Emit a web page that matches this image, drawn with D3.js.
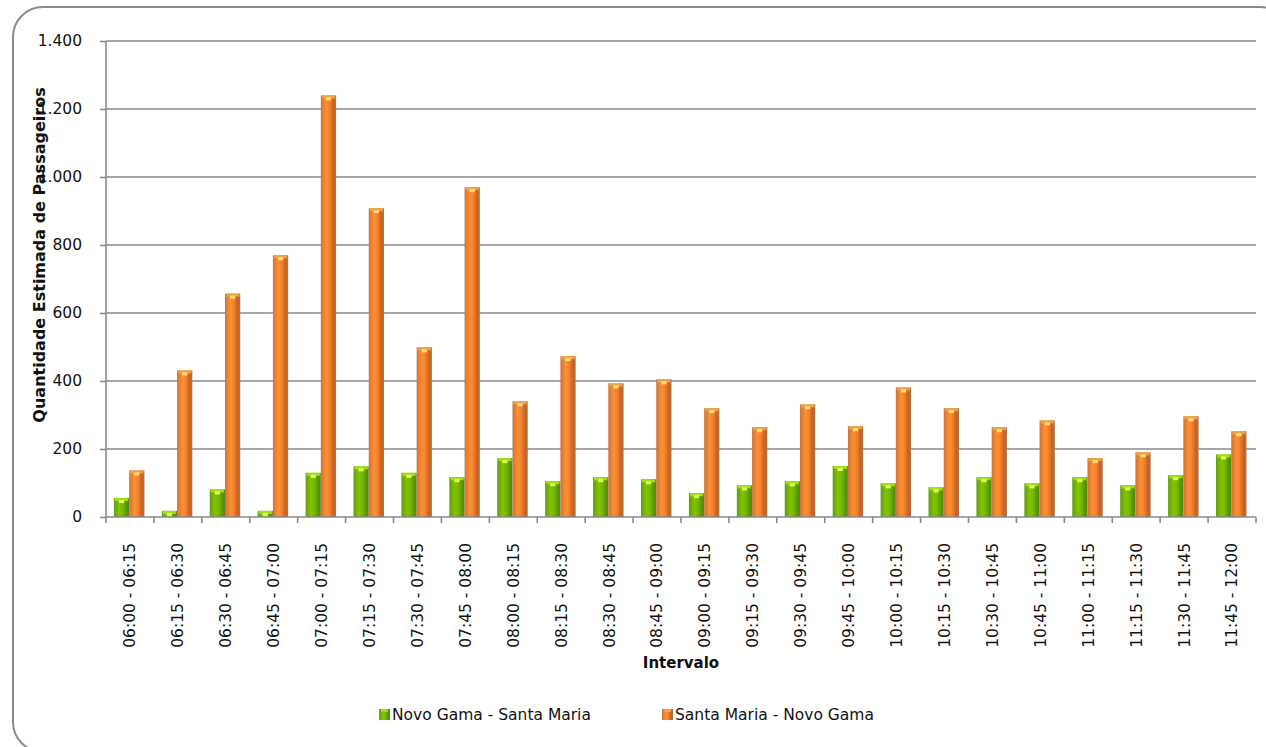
<!DOCTYPE html>
<html>
<head>
<meta charset="utf-8">
<script src="https://cdn.jsdelivr.net/npm/d3@7"></script>
<style>
  html, body { margin: 0; padding: 0; background: #fff; }
  svg { display: block; font-family: "DejaVu Sans", sans-serif; }
</style>
</head>
<body>
<svg id="chart" width="1266" height="747"></svg>
<script>
const categories = ["06:00 - 06:15","06:15 - 06:30","06:30 - 06:45","06:45 - 07:00","07:00 - 07:15","07:15 - 07:30","07:30 - 07:45","07:45 - 08:00","08:00 - 08:15","08:15 - 08:30","08:30 - 08:45","08:45 - 09:00","09:00 - 09:15","09:15 - 09:30","09:30 - 09:45","09:45 - 10:00","10:00 - 10:15","10:15 - 10:30","10:30 - 10:45","10:45 - 11:00","11:00 - 11:15","11:15 - 11:30","11:30 - 11:45","11:45 - 12:00"];
const seriesNames = ["Novo Gama - Santa Maria", "Santa Maria - Novo Gama"];
const novoGamaSantaMaria = [56, 18, 81, 18, 130, 149, 130, 117, 173, 105, 117, 111, 70, 93, 105, 150, 99, 87, 117, 99, 117, 93, 123, 184];
const santaMariaNovoGama = [137, 431, 657, 770, 1240, 908, 499, 970, 340, 473, 393, 405, 320, 264, 331, 267, 381, 320, 264, 284, 173, 190, 296, 252];
const yTicks = [0, 200, 400, 600, 800, 1000, 1200, 1400];
const yTickLabels = ["0", "200", "400", "600", "800", "1.000", "1.200", "1.400"];
const yTitle = "Quantidade Estimada de Passageiros";
const xTitle = "Intervalo";

const svg = d3.select("#chart");
const plot = { left: 106, right: 1256, top: 41, bottom: 517 };

// outer rounded frame
svg.append("rect")
  .attr("x", 13).attr("y", 7)
  .attr("width", 1290 - 13).attr("height", 752 - 7)
  .attr("rx", 30).attr("ry", 30)
  .attr("fill", "#fff").attr("stroke", "#8a8a8a").attr("stroke-width", 2);

// gradients
const defs = svg.append("defs");
function grad(id, stops) {
  const g = defs.append("linearGradient").attr("id", id)
    .attr("x1", "0%").attr("x2", "100%").attr("y1", "0%").attr("y2", "0%");
  stops.forEach(s => g.append("stop").attr("offset", s[0]).attr("stop-color", s[1]));
}
grad("gGreen", [["0%", "#6a9a2c"], ["9%", "#6aa800"], ["35%", "#7fc400"], ["55%", "#78bc00"], ["82%", "#5a9600"], ["100%", "#55822a"]]);
grad("gOrange", [["0%", "#c0784a"], ["9%", "#e07a2c"], ["35%", "#ff8f36"], ["55%", "#f3852f"], ["82%", "#c9621f"], ["100%", "#a87453"]]);
const capColors = [
  { edge: "#9fdc1a", dot: "#e6ff5a" },
  { edge: "#f2a048", dot: "#ffe27a" }
];
const fills = ["url(#gGreen)", "url(#gOrange)"];

const x0 = d3.scaleBand().domain(categories).range([plot.left, plot.right]).padding(0);
const bw = x0.bandwidth();
const x1 = d3.scaleBand().domain(seriesNames).range([bw * 0.165, bw * 0.165 + 30.5]).padding(0);
const y = d3.scaleLinear().domain([0, 1400]).range([plot.bottom, plot.top]);

// gridlines
svg.append("g").selectAll("line").data(yTicks.slice(1)).join("line")
  .attr("x1", plot.left).attr("x2", plot.right)
  .attr("y1", d => y(d)).attr("y2", d => y(d))
  .attr("stroke", "#8a8a8a").attr("stroke-width", 1.6);

// y axis
const yAxis = d3.axisLeft(y).tickValues(yTicks)
  .tickFormat((d, i) => yTickLabels[i]).tickSize(6).tickPadding(18);
const gy = svg.append("g").attr("transform", `translate(${plot.left},0)`).call(yAxis);
gy.select(".domain").attr("stroke", "#8a8a8a").attr("stroke-width", 1.6).attr("d", `M0,${plot.top}V${plot.bottom}`);
gy.selectAll(".tick line").attr("stroke", "#8a8a8a").attr("stroke-width", 1.6);
gy.selectAll(".tick text").attr("fill", "#111").style("font-size", "15.5px")
  .style("font-family", "'DejaVu Sans', sans-serif");

// bars
const data = [novoGamaSantaMaria, santaMariaNovoGama];
const groups = svg.append("g").selectAll("g").data(categories).join("g")
  .attr("transform", d => `translate(${x0(d)},0)`);
groups.each(function(cat, ci) {
  const g = d3.select(this);
  seriesNames.forEach((s, si) => {
    const v = data[si][ci];
    const bx = x1(s), bwid = x1.bandwidth();
    const top = y(v), h = y(0) - y(v);
    g.append("rect").attr("x", bx).attr("y", top).attr("width", bwid).attr("height", h)
      .attr("fill", fills[si]);
    const capH = Math.min(3, h);
    g.append("rect").attr("x", bx + 1).attr("y", top).attr("width", bwid - 2).attr("height", capH)
      .attr("fill", capColors[si].edge);
    if (h > 4) {
      g.append("rect").attr("x", bx + bwid * 0.33).attr("y", top + 2).attr("width", bwid * 0.34).attr("height", 3)
        .attr("fill", capColors[si].dot);
    }
  });
});

// x axis
const xAxis = d3.axisBottom(x0).tickSize(0).tickFormat("");
const gx = svg.append("g").attr("transform", `translate(0,${plot.bottom})`).call(xAxis);
gx.select(".domain").attr("stroke", "#8a8a8a").attr("stroke-width", 1.6).attr("d", `M${plot.left},0H${plot.right}`);
const bounds = categories.map(c => x0(c)).concat([plot.right]);
svg.append("g").selectAll("line").data(bounds).join("line")
  .attr("x1", d => d).attr("x2", d => d)
  .attr("y1", plot.bottom).attr("y2", plot.bottom + 6)
  .attr("stroke", "#8a8a8a").attr("stroke-width", 1.6);

// x tick labels (rotated)
svg.append("g").selectAll("text").data(categories).join("text")
  .attr("transform", d => `translate(${x0(d) + bw / 2},543) rotate(-90)`)
  .attr("text-anchor", "end").attr("dy", "0.35em")
  .attr("fill", "#111").style("font-size", "15.5px")
  .text(d => d);

// axis titles
svg.append("text")
  .attr("transform", "translate(45,255) rotate(-90)")
  .attr("text-anchor", "middle").attr("fill", "#111")
  .style("font-size", "16px").style("font-weight", "bold")
  .text(yTitle);
svg.append("text")
  .attr("x", (plot.left + plot.right) / 2).attr("y", 668)
  .attr("text-anchor", "middle").attr("fill", "#111")
  .style("font-size", "15px").style("font-weight", "bold")
  .text(xTitle);

// legend
const legendX = [379, 662];
const leg = svg.append("g").selectAll("g").data(seriesNames).join("g")
  .attr("transform", (d, i) => `translate(${legendX[i]},709)`);
leg.append("rect").attr("width", 11).attr("height", 11).attr("fill", (d, i) => fills[i]);
leg.append("rect").attr("x", 2).attr("width", 7).attr("height", 3).attr("fill", (d, i) => capColors[i].edge);
leg.append("text").attr("x", 13).attr("y", 5.5).attr("dy", "0.35em")
  .attr("fill", "#111").style("font-size", "15.5px").text(d => d);
</script>
</body>
</html>
